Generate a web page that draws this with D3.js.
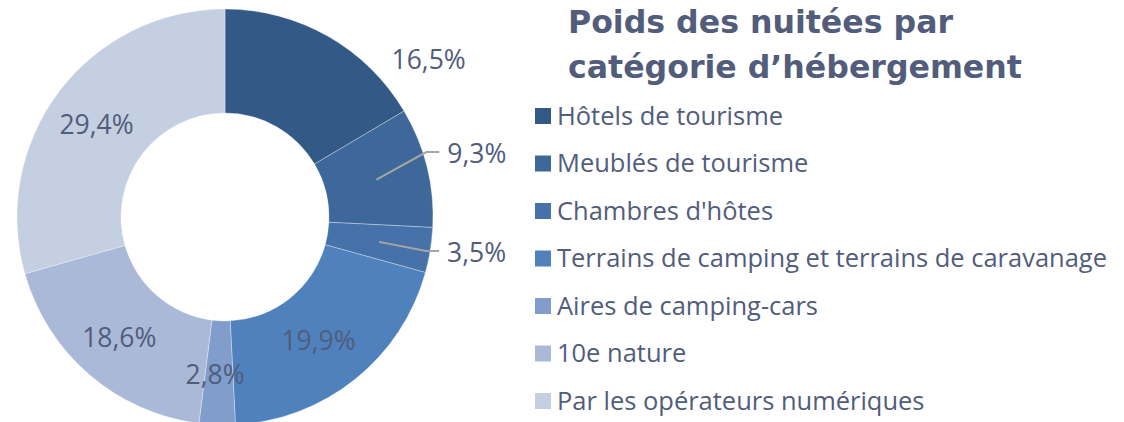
<!DOCTYPE html>
<html>
<head>
<meta charset="utf-8">
<script src="https://cdn.jsdelivr.net/npm/d3@7"></script>
<style>
  body { margin: 0; background: #fff; }
  svg { display: block; }
</style>
</head>
<body>
<div id="chart"></div>
<script>
const categories = [
  "Hôtels de tourisme",
  "Meublés de tourisme",
  "Chambres d'hôtes",
  "Terrains de camping et terrains de caravanage",
  "Aires de camping-cars",
  "10e nature",
  "Par les opérateurs numériques"
];
const values = [16.5, 9.3, 3.5, 19.9, 2.8, 18.6, 29.4];
const colors = ["#335a87", "#3e6899", "#4672a9", "#4f81bd", "#819dcb", "#aab9d8", "#c4cfe2"];
const titleLines = ["Poids des nuitées par", "catégorie d’hébergement"];

// label placement: null = at centroid, otherwise polar [angle deg, radius], leader = draw line
const labelPlace = [
  { pos: [52.4, 257], leader: false },
  { pos: [74.2, 231], leader: true },
  { pos: [99.2, 225], leader: true },
  null, null, null, null
];

const width = 1124, height = 422;
const cx = 225, cy = 217, outerR = 208, innerR = 104;
const textColor = "#525c7b";
const font = "'Open Sans', 'Noto Sans', sans-serif";
const labelSize = "26.5px";

const svg = d3.select("#chart").append("svg")
  .attr("width", width)
  .attr("height", height);

const pie = d3.pie().sort(null).value(d => d.v);
const arc = d3.arc().innerRadius(innerR).outerRadius(outerR);
const data = pie(values.map((v, i) => ({ v: v, name: categories[i], i: i })));

const g = svg.append("g").attr("transform", "translate(" + cx + "," + cy + ")");

g.selectAll("path")
  .data(data)
  .enter()
  .append("path")
  .attr("d", arc)
  .attr("fill", d => colors[d.data.i])
  .attr("stroke", "rgba(255,255,255,0.45)")
  .attr("stroke-width", 0.7);

const fmt = v => v.toFixed(1).replace(".", ",") + "%";
const polar = (a, r) => [r * Math.sin(a * Math.PI / 180), -r * Math.cos(a * Math.PI / 180)];

data.forEach((d, i) => {
  const c = arc.centroid(d);
  const p = labelPlace[i];
  if (p && p.leader) {
    const t = polar(p.pos[0], p.pos[1]);
    g.append("polyline")
      .attr("points", [c, [t[0] - 21, t[1] - 2], [t[0] - 8, t[1] - 2]].map(q => q.join(",")).join(" "))
      .attr("fill", "none")
      .attr("stroke", "#a6a6a6")
      .attr("stroke-width", 2);
    g.append("text")
      .attr("x", t[0]).attr("y", t[1])
      .attr("dy", "0.35em")
      .attr("text-anchor", "start")
      .style("font-family", font)
      .style("font-size", labelSize)
      .style("fill", textColor)
      .text(fmt(d.data.v));
  } else {
    const t = p ? polar(p.pos[0], p.pos[1]) : [c[0] - 4, c[1] + 2];
    g.append("text")
      .attr("x", t[0]).attr("y", t[1])
      .attr("dy", "0.35em")
      .attr("text-anchor", "middle")
      .style("font-family", font)
      .style("font-size", labelSize)
      .style("fill", textColor)
      .text(fmt(d.data.v));
  }
});

// title, fitted so the second line is ~454px wide
const title = svg.append("g");
const titleText = titleLines.map((line, i) =>
  title.append("text")
    .attr("x", 568)
    .attr("y", 33 + i * 45)
    .style("font-family", "'DejaVu Sans', sans-serif")
    .style("font-weight", "bold")
    .style("font-size", "30px")
    .style("fill", textColor)
    .text(line)
);
const tw = titleText[1].node().getComputedTextLength();
titleText.forEach(t => t.style("font-size", (30 * 454 / tw) + "px"));

// legend
const legend = svg.append("g").attr("transform", "translate(535,116)");
const rows = legend.selectAll("g")
  .data(categories)
  .enter()
  .append("g")
  .attr("transform", (d, i) => "translate(0," + i * 47.5 + ")");

rows.append("rect")
  .attr("x", 0).attr("y", -8)
  .attr("width", 16).attr("height", 16)
  .attr("fill", (d, i) => colors[i]);

const legText = rows.append("text")
  .attr("x", 22)
  .attr("dy", "0.35em")
  .style("font-family", font)
  .style("font-size", "24px")
  .style("fill", textColor)
  .text(d => d);

const lw = d3.max(legText.nodes(), n => n.getComputedTextLength());
legText.style("font-size", (24 * 550 / lw) + "px");
</script>
</body>
</html>
